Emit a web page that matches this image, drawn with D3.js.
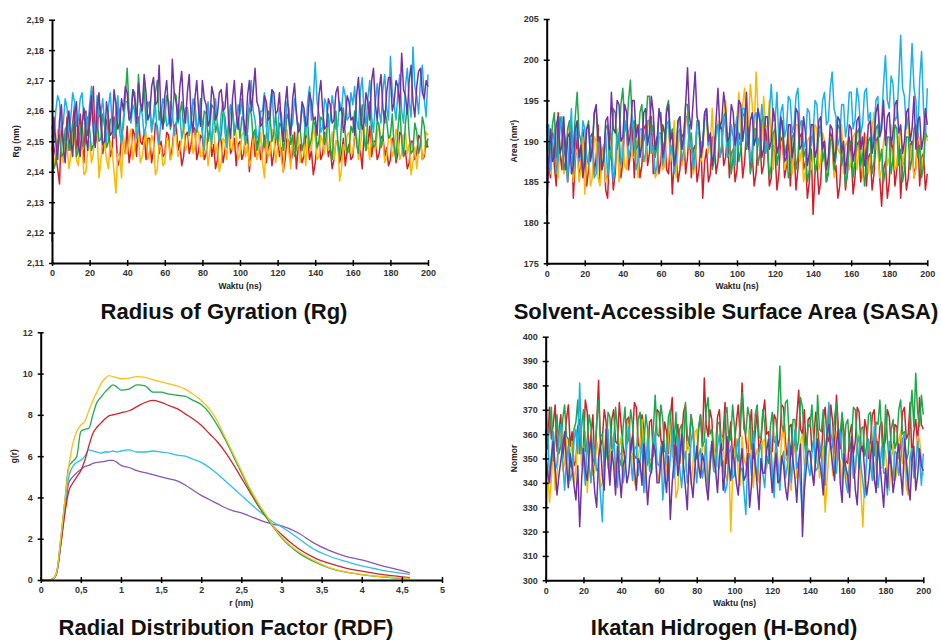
<!DOCTYPE html>
<html>
<head>
<meta charset="utf-8">
<script src="https://cdn.jsdelivr.net/npm/d3@7"></script>
<style>
  body { margin: 0; background: #fff; }
  svg text { font-family: 'Liberation Sans', Arial, sans-serif; }
</style>
</head>
<body>
<div id="graf"></div>
<script>
// -- Datos (muestreo cada 1 ns) --
const waktu = d3.range(0, 201, 1)
const waktuTicks = [0, 20, 40, 60, 80, 100, 120, 140, 160, 180, 200]

// Radius of Gyration (nm)
const rgTicksY = [2.11, 2.12, 2.13, 2.14, 2.15, 2.16, 2.17, 2.18, 2.19]
const rgMerah = [
  2.152, 2.148, 2.145, 2.141, 2.136, 2.155, 2.150, 2.144, 2.158, 2.151, 2.147, 2.156, 2.162, 2.146, 2.153, 2.159, 2.149, 2.143, 2.160, 2.152,
  2.155, 2.161, 2.168, 2.149, 2.152, 2.163, 2.160, 2.146, 2.150, 2.157, 2.156, 2.145, 2.148, 2.158, 2.153, 2.142, 2.144, 2.152, 2.150, 2.146,
  2.155, 2.143, 2.147, 2.154, 2.152, 2.145, 2.158, 2.150, 2.149, 2.153, 2.144, 2.151, 2.151, 2.143, 2.147, 2.156, 2.155, 2.146, 2.150, 2.145,
  2.146, 2.153, 2.152, 2.144, 2.148, 2.155, 2.156, 2.147, 2.150, 2.142, 2.145, 2.152, 2.153, 2.146, 2.149, 2.155, 2.154, 2.144, 2.147, 2.152,
  2.151, 2.144, 2.146, 2.152, 2.153, 2.145, 2.149, 2.141, 2.144, 2.153, 2.150, 2.143, 2.147, 2.152, 2.155, 2.146, 2.148, 2.151, 2.142, 2.149,
  2.150, 2.144, 2.146, 2.153, 2.152, 2.140, 2.148, 2.153, 2.145, 2.149, 2.151, 2.144, 2.147, 2.152, 2.143, 2.148, 2.150, 2.142, 2.146, 2.151,
  2.152, 2.145, 2.148, 2.140, 2.144, 2.151, 2.150, 2.143, 2.146, 2.153, 2.141, 2.148, 2.149, 2.143, 2.145, 2.152, 2.151, 2.144, 2.147, 2.139,
  2.143, 2.149, 2.150, 2.144, 2.146, 2.153, 2.152, 2.145, 2.148, 2.141, 2.144, 2.150, 2.150, 2.143, 2.146, 2.151, 2.142, 2.147, 2.149, 2.144,
  2.145, 2.152, 2.151, 2.146, 2.147, 2.141, 2.153, 2.147, 2.149, 2.155, 2.145, 2.150, 2.150, 2.144, 2.146, 2.151, 2.152, 2.145, 2.148, 2.142,
  2.144, 2.151, 2.150, 2.143, 2.146, 2.153, 2.152, 2.145, 2.147, 2.141, 2.143, 2.150, 2.150, 2.144, 2.146, 2.152, 2.151, 2.144, 2.145, 2.150,
  2.148]
const rgKuning = [
  2.150, 2.142, 2.146, 2.154, 2.152, 2.147, 2.143, 2.150, 2.149, 2.141, 2.145, 2.153, 2.151, 2.144, 2.142, 2.150, 2.148, 2.139, 2.140, 2.147,
  2.150, 2.143, 2.146, 2.154, 2.153, 2.138, 2.144, 2.151, 2.149, 2.144, 2.141, 2.150, 2.147, 2.140, 2.133, 2.146, 2.145, 2.138, 2.152, 2.146,
  2.146, 2.150, 2.154, 2.144, 2.148, 2.155, 2.151, 2.143, 2.145, 2.150, 2.153, 2.144, 2.147, 2.152, 2.150, 2.139, 2.141, 2.149, 2.148, 2.142,
  2.143, 2.151, 2.150, 2.144, 2.146, 2.153, 2.152, 2.145, 2.147, 2.151, 2.155, 2.147, 2.149, 2.154, 2.156, 2.146, 2.148, 2.154, 2.153, 2.145,
  2.145, 2.152, 2.151, 2.142, 2.147, 2.153, 2.154, 2.146, 2.149, 2.140, 2.143, 2.151, 2.150, 2.144, 2.155, 2.148, 2.147, 2.156, 2.152, 2.144,
  2.146, 2.152, 2.153, 2.145, 2.149, 2.142, 2.144, 2.151, 2.151, 2.144, 2.147, 2.153, 2.143, 2.138, 2.150, 2.145, 2.146, 2.154, 2.152, 2.143,
  2.148, 2.153, 2.144, 2.140, 2.150, 2.154, 2.146, 2.141, 2.152, 2.146, 2.147, 2.153, 2.143, 2.148, 2.149, 2.142, 2.153, 2.148, 2.147, 2.155,
  2.151, 2.144, 2.145, 2.152, 2.150, 2.146, 2.154, 2.147, 2.148, 2.153, 2.144, 2.150, 2.150, 2.137, 2.141, 2.149, 2.147, 2.152, 2.153, 2.146,
  2.146, 2.153, 2.151, 2.144, 2.148, 2.154, 2.155, 2.147, 2.149, 2.144, 2.153, 2.149, 2.147, 2.152, 2.156, 2.148, 2.150, 2.143, 2.145, 2.151,
  2.152, 2.145, 2.147, 2.154, 2.151, 2.144, 2.146, 2.152, 2.153, 2.146, 2.149, 2.139, 2.143, 2.148, 2.141, 2.147, 2.150, 2.144, 2.146, 2.153,
  2.152]
const rgHijau = [
  2.148, 2.141, 2.143, 2.150, 2.152, 2.145, 2.146, 2.154, 2.155, 2.147, 2.149, 2.156, 2.153, 2.145, 2.147, 2.154, 2.156, 2.148, 2.150, 2.158,
  2.154, 2.147, 2.149, 2.156, 2.157, 2.150, 2.151, 2.159, 2.155, 2.148, 2.150, 2.157, 2.158, 2.151, 2.153, 2.162, 2.160, 2.152, 2.155, 2.165,
  2.174, 2.160, 2.158, 2.167, 2.166, 2.155, 2.172, 2.162, 2.160, 2.168, 2.156, 2.162, 2.163, 2.154, 2.158, 2.166, 2.170, 2.157, 2.161, 2.155,
  2.157, 2.165, 2.163, 2.154, 2.158, 2.166, 2.165, 2.156, 2.159, 2.163, 2.154, 2.160, 2.161, 2.152, 2.156, 2.163, 2.162, 2.153, 2.157, 2.164,
  2.153, 2.160, 2.159, 2.150, 2.155, 2.162, 2.161, 2.153, 2.156, 2.150, 2.152, 2.160, 2.158, 2.151, 2.154, 2.162, 2.160, 2.152, 2.155, 2.158,
  2.151, 2.158, 2.157, 2.149, 2.153, 2.161, 2.159, 2.151, 2.154, 2.147, 2.150, 2.158, 2.156, 2.148, 2.152, 2.160, 2.158, 2.150, 2.153, 2.159,
  2.149, 2.156, 2.155, 2.147, 2.151, 2.159, 2.157, 2.149, 2.152, 2.145, 2.148, 2.156, 2.154, 2.147, 2.150, 2.158, 2.156, 2.148, 2.151, 2.157,
  2.155, 2.148, 2.150, 2.158, 2.157, 2.149, 2.152, 2.159, 2.148, 2.144, 2.154, 2.160, 2.150, 2.145, 2.156, 2.161, 2.152, 2.146, 2.147, 2.155,
  2.153, 2.160, 2.149, 2.146, 2.156, 2.162, 2.151, 2.147, 2.158, 2.163, 2.153, 2.148, 2.149, 2.157, 2.155, 2.148, 2.151, 2.160, 2.157, 2.151,
  2.152, 2.159, 2.148, 2.144, 2.154, 2.161, 2.150, 2.145, 2.156, 2.162, 2.152, 2.146, 2.147, 2.156, 2.153, 2.146, 2.149, 2.158, 2.155, 2.148,
  2.151]
const rgBiru = [
  2.155, 2.150, 2.160, 2.165, 2.163, 2.154, 2.156, 2.164, 2.161, 2.153, 2.158, 2.166, 2.163, 2.155, 2.157, 2.164, 2.166, 2.157, 2.159, 2.154,
  2.162, 2.168, 2.157, 2.152, 2.165, 2.158, 2.159, 2.164, 2.155, 2.150, 2.161, 2.166, 2.156, 2.151, 2.160, 2.165, 2.153, 2.149, 2.158, 2.163,
  2.163, 2.158, 2.156, 2.162, 2.160, 2.151, 2.154, 2.161, 2.159, 2.152, 2.155, 2.163, 2.161, 2.153, 2.157, 2.162, 2.152, 2.149, 2.158, 2.164,
  2.162, 2.155, 2.156, 2.163, 2.160, 2.152, 2.155, 2.162, 2.159, 2.151, 2.154, 2.161, 2.161, 2.152, 2.157, 2.164, 2.163, 2.154, 2.156, 2.162,
  2.152, 2.147, 2.158, 2.163, 2.154, 2.149, 2.160, 2.164, 2.155, 2.150, 2.159, 2.163, 2.153, 2.148, 2.157, 2.162, 2.161, 2.154, 2.155, 2.162,
  2.159, 2.164, 2.154, 2.150, 2.158, 2.163, 2.170, 2.160, 2.157, 2.151, 2.152, 2.160, 2.160, 2.166, 2.155, 2.149, 2.162, 2.167, 2.156, 2.151,
  2.153, 2.161, 2.159, 2.152, 2.155, 2.163, 2.161, 2.154, 2.156, 2.164, 2.160, 2.153, 2.154, 2.162, 2.158, 2.152, 2.163, 2.168, 2.157, 2.164,
  2.176, 2.163, 2.159, 2.153, 2.155, 2.164, 2.162, 2.155, 2.157, 2.165, 2.161, 2.154, 2.155, 2.163, 2.160, 2.168, 2.165, 2.157, 2.158, 2.166,
  2.162, 2.168, 2.157, 2.154, 2.166, 2.171, 2.160, 2.155, 2.164, 2.170, 2.158, 2.153, 2.163, 2.169, 2.160, 2.156, 2.167, 2.172, 2.161, 2.157,
  2.178, 2.166, 2.162, 2.157, 2.166, 2.172, 2.160, 2.156, 2.168, 2.174, 2.163, 2.158, 2.181, 2.168, 2.165, 2.159, 2.170, 2.175, 2.164, 2.158,
  2.172]
const rgUngu = [
  2.117, 2.158, 2.150, 2.144, 2.157, 2.162, 2.148, 2.143, 2.155, 2.160, 2.151, 2.145, 2.158, 2.163, 2.149, 2.145, 2.156, 2.161, 2.152, 2.147,
  2.159, 2.165, 2.153, 2.148, 2.161, 2.166, 2.155, 2.149, 2.150, 2.163, 2.158, 2.152, 2.153, 2.167, 2.162, 2.154, 2.156, 2.164, 2.160, 2.168,
  2.166, 2.157, 2.158, 2.167, 2.164, 2.156, 2.169, 2.163, 2.160, 2.172, 2.166, 2.157, 2.159, 2.168, 2.171, 2.162, 2.163, 2.175, 2.158, 2.154,
  2.165, 2.170, 2.160, 2.155, 2.177, 2.166, 2.163, 2.157, 2.168, 2.173, 2.161, 2.156, 2.166, 2.172, 2.158, 2.153, 2.164, 2.170, 2.160, 2.155,
  2.170, 2.164, 2.162, 2.155, 2.157, 2.168, 2.165, 2.157, 2.159, 2.166, 2.167, 2.160, 2.161, 2.169, 2.156, 2.151, 2.164, 2.170, 2.159, 2.154,
  2.163, 2.169, 2.157, 2.152, 2.165, 2.170, 2.160, 2.166, 2.174, 2.163, 2.161, 2.155, 2.156, 2.165, 2.163, 2.157, 2.158, 2.167, 2.166, 2.159,
  2.160, 2.166, 2.155, 2.150, 2.162, 2.168, 2.157, 2.152, 2.164, 2.169, 2.159, 2.153, 2.154, 2.163, 2.161, 2.155, 2.156, 2.166, 2.163, 2.157,
  2.158, 2.152, 2.165, 2.170, 2.160, 2.154, 2.155, 2.164, 2.162, 2.156, 2.157, 2.166, 2.168, 2.160, 2.161, 2.153, 2.156, 2.165, 2.163, 2.157,
  2.158, 2.152, 2.165, 2.171, 2.160, 2.154, 2.156, 2.166, 2.163, 2.157, 2.170, 2.174, 2.162, 2.157, 2.167, 2.172, 2.161, 2.156, 2.166, 2.171,
  2.171, 2.160, 2.163, 2.170, 2.168, 2.161, 2.179, 2.167, 2.165, 2.159, 2.170, 2.175, 2.163, 2.158, 2.168, 2.173, 2.174, 2.166, 2.164, 2.170,
  2.168]

// SASA (nm2)
const sasaTicksY = [175, 180, 185, 190, 195, 200, 205]
const sasaMerah = [
  190, 187, 185.5, 191, 187, 184.5, 193.5, 188.5, 186.5, 191.5, 189.5, 185, 188, 192, 183, 187.5, 190.5, 185.5, 187, 191.5,
  189, 184.5, 186.5, 190.5, 191, 186, 188, 192, 185, 188.5, 189.5, 184, 183, 188.5, 188, 184, 186, 191, 190, 185.5,
  187.5, 192.5, 191.5, 186.5, 188.5, 192, 185.5, 189, 190, 185.5, 187, 191.5, 192, 187, 188.5, 193, 186, 189.5, 190.5, 186,
  187.5, 192, 191, 186.5, 186, 190, 183.5, 187.5, 189, 185, 186.5, 190.5, 191, 186, 188, 192, 185.5, 189, 189.5, 185,
  186.5, 190, 183, 187.5, 189, 185, 186, 190.5, 190.5, 186, 187.5, 192, 191.5, 187, 188, 191, 185.5, 188.5, 189, 185,
  186.5, 191, 190, 185.5, 187.5, 191.5, 192, 187, 188.5, 184.5, 186, 190, 190.5, 186, 187, 191.5, 189.5, 184.5, 185.5, 189.5,
  188.5, 184, 186, 190.5, 190, 185.5, 187, 191, 184.5, 188.5, 189, 184, 186.5, 190.5, 191, 186.5, 187.5, 183, 185, 189,
  181, 186, 187.5, 183.5, 185, 190, 189.5, 185, 186.5, 191, 190.5, 186, 187, 183, 184.5, 189, 189, 184, 186, 190.5,
  188.5, 183.5, 185.5, 189.5, 190, 185, 187, 191, 184.5, 188, 188.5, 184, 186, 190, 190.5, 185.5, 182, 186.5, 187.5, 183,
  185, 190, 189, 184.5, 186.5, 190.5, 183, 187, 188, 184, 185.5, 189.5, 190, 185.5, 187, 191, 184.5, 188, 188.5, 184,
  186]
const sasaKuning = [
  189.5, 192, 186, 189, 191.5, 187, 185.5, 189.5, 190, 186, 187, 191, 192.5, 188, 185, 188.5, 189, 185, 186.5, 190.5,
  183.5, 187.5, 188.5, 184.5, 185.5, 190.5, 190, 185.5, 184.5, 188, 189.5, 185, 186, 190, 191, 186.5, 187, 191.5, 185, 188,
  190.5, 187, 186.5, 191, 192, 188, 188, 192, 185.5, 189, 191, 187.5, 187.5, 191.5, 193, 188.5, 189, 185.5, 186, 190.5,
  190.5, 186.5, 187, 191.5, 192, 187.5, 188.5, 192.5, 185.5, 189, 191.5, 187, 188, 192, 193.5, 189, 189.5, 186, 187, 191,
  191, 187.5, 188.5, 192.5, 193, 188.5, 190, 194, 187.5, 191, 192.5, 188, 189.5, 193, 195, 190, 191, 187, 188.5, 192,
  193, 196, 190.5, 194.5, 196.5, 191, 192, 197, 194.5, 190.5, 198.5, 194, 193, 190, 195.5, 192, 191.5, 195, 189.5, 186.5,
  192, 187.5, 188.5, 192.5, 191, 186.5, 187.5, 191.5, 190.5, 186, 188, 192, 192, 187.5, 189, 185, 186.5, 190, 190.5, 186.5,
  188, 192, 191.5, 186.5, 187.5, 191, 190, 186, 186.5, 190.5, 189.5, 185.5, 192.5, 189, 188.5, 192, 186, 189.5, 190, 186.5,
  187.5, 190.5, 191, 186.5, 188.5, 192, 185.5, 189, 190.5, 186, 187.5, 191.5, 193.5, 189, 189, 185.5, 186.5, 190, 191, 187,
  188, 192, 190.5, 186.5, 187, 190.5, 191.5, 187, 188.5, 193, 192, 188, 189, 185.5, 186.5, 190, 190.5, 186, 188, 191.5,
  190]
const sasaHijau = [
  192, 189, 188.5, 192, 193.5, 188, 189, 193, 191, 186.5, 187.5, 191.5, 192.5, 188.5, 189.5, 193, 196, 191, 190, 186,
  188, 191.5, 192.5, 188, 189.5, 193.5, 194, 189.5, 190.5, 186.5, 187.5, 191.5, 192, 187.5, 189, 194, 193.5, 189, 190.5, 194.5,
  196.5, 192, 191, 195, 197.5, 192, 192.5, 189, 189.5, 193.5, 194.5, 190, 191, 195.5, 195.5, 191, 192, 188, 189.5, 193,
  193.5, 189, 190, 194, 195, 190.5, 191.5, 187.5, 188.5, 192.5, 193, 189, 190, 194.5, 194.5, 190, 191, 187, 188.5, 192.5,
  192.5, 188, 189.5, 193.5, 194, 189.5, 190.5, 186.5, 187.5, 191.5, 192, 188, 189, 193, 193.5, 189, 190.5, 186, 188, 192,
  192, 187.5, 189, 193, 193.5, 189, 190.5, 186, 187.5, 191.5, 191.5, 187, 188.5, 192.5, 193, 188.5, 190, 185.5, 187, 191,
  191.5, 187, 188.5, 192.5, 192.5, 188, 189.5, 185.5, 186.5, 190.5, 191, 186.5, 188, 192, 192.5, 188, 189, 185, 186.5, 190.5,
  190.5, 186, 187.5, 191.5, 192, 187.5, 189, 185, 186, 190, 190.5, 186.5, 188, 192, 191.5, 187, 188.5, 184.5, 186, 189.5,
  190, 185.5, 187.5, 191, 191.5, 187, 188.5, 184.5, 186.5, 190, 190.5, 186, 187.5, 191.5, 192, 187.5, 189, 185, 186.5, 190.5,
  190.5, 186, 188, 192, 191.5, 187, 189, 185, 186.5, 190.5, 190.5, 186.5, 188, 191.5, 192, 188, 189.5, 185.5, 187, 191,
  190.5]
const sasaBiru = [
  189, 192, 186.5, 190, 191, 186, 187.5, 191.5, 193, 189, 188, 185, 190.5, 194, 186, 189.5, 192, 187.5, 188.5, 192.5,
  191.5, 188, 187, 190.5, 189.5, 185.5, 186, 190, 190.5, 186.5, 187.5, 191, 185.5, 188.5, 189.5, 185, 187, 190.5, 191, 187,
  188.5, 192.5, 192, 188, 189, 193, 190.5, 186.5, 187.5, 191.5, 191.5, 187.5, 188.5, 192.5, 192.5, 188.5, 189.5, 186, 187, 191,
  191, 187, 188.5, 192, 192.5, 188.5, 189.5, 186, 187.5, 191, 191.5, 187.5, 189, 193, 193, 189, 190, 186.5, 188, 192,
  192, 188.5, 189.5, 193, 193.5, 189.5, 190.5, 187, 188, 191.5, 192, 188, 189.5, 193, 191.5, 188, 188.5, 192, 190.5, 187,
  193, 189.5, 190, 194, 194, 190, 191, 187.5, 189, 193, 193.5, 189.5, 190.5, 194.5, 192, 188.5, 189.5, 193.5, 197, 192.5,
  192.5, 196, 190, 193.5, 194.5, 190.5, 191.5, 195.5, 195, 191, 192, 195.5, 196.5, 192, 192.5, 189, 190, 194, 193.5, 189.5,
  191, 195, 194.5, 190.5, 191.5, 195, 196, 192, 192.5, 196.5, 198.5, 194, 193, 189.5, 190.5, 194.5, 194.5, 190.5, 192, 196,
  196, 191.5, 192.5, 196.5, 195, 191, 192, 196, 196.5, 192.5, 193.5, 189.5, 191, 195, 195.5, 191, 192.5, 197, 200.5, 195,
  194, 198, 197, 192.5, 193, 197.5, 203, 196.5, 195.5, 191.5, 193, 197, 202, 196.5, 195, 190.5, 197.5, 201, 194, 190.5,
  196.5]
const sasaUngu = [
  181, 187, 191.5, 187.5, 188, 192, 193, 188.5, 189.5, 193, 186.5, 190.5, 191, 186, 187, 191.5, 192.5, 188, 189.5, 185.5,
  187.5, 191.5, 192, 187.5, 189, 193.5, 194.5, 190, 190.5, 186.5, 188, 192.5, 193, 189, 196, 191.5, 191, 195, 194.5, 190,
  190.5, 194.5, 193.5, 189.5, 191, 195, 195, 190.5, 192, 188, 189.5, 193.5, 194, 189.5, 191, 195.5, 193.5, 189, 190, 194,
  192.5, 188, 189.5, 193.5, 194.5, 190, 191, 187, 188.5, 192.5, 193, 189, 190.5, 194.5, 199, 193, 191.5, 195, 198.5, 193,
  192, 188, 189.5, 193.5, 194, 190, 191, 187, 188.5, 192.5, 196.5, 191.5, 192.5, 196, 194, 190, 190.5, 194.5, 193.5, 189.5,
  191, 195, 194.5, 190, 192, 196, 189, 192.5, 193.5, 189.5, 190.5, 194, 192.5, 188, 189, 193, 193, 189, 190, 194,
  192.5, 188.5, 189.5, 193, 191.5, 187.5, 188, 192, 192, 188, 190, 194, 193.5, 189, 189.5, 193, 191, 187, 188.5, 192,
  192, 188, 189, 192.5, 193, 189, 190, 186.5, 188, 192, 191.5, 187.5, 189, 193, 192.5, 188.5, 190, 186, 188.5, 192,
  191.5, 187.5, 189, 192.5, 193, 189, 190.5, 187, 188, 192, 192.5, 188.5, 190, 193.5, 194.5, 190.5, 191.5, 195, 189.5, 193,
  193.5, 189.5, 191, 194.5, 195, 191, 192, 188.5, 190, 193.5, 194, 190, 191.5, 195.5, 189, 192.5, 193, 189, 190.5, 194,
  192]

// Ikatan hidrogen (jumlah)
const hbTicksY = [300, 310, 320, 330, 340, 350, 360, 370, 380, 390, 400]
const hbMerah = [
  362, 354, 371, 358, 364, 372, 353, 361, 368, 350, 357, 366, 372, 355, 361, 347, 349, 363, 366, 352,
  355, 374, 369, 351, 360, 368, 347, 364, 382, 355, 358, 370, 365, 349, 352, 366, 370, 357, 356, 373,
  363, 355, 349, 366, 367, 352, 359, 373, 371, 356, 354, 368, 362, 346, 348, 365, 366, 351, 357, 370,
  369, 358, 353, 365, 361, 352, 367, 375, 350, 359, 364, 348, 357, 369, 372, 354, 355, 368, 362, 349,
  351, 362, 368, 355, 383, 364, 359, 370, 366, 351, 354, 367, 370, 356, 360, 373, 348, 357, 365, 350,
  356, 365, 372, 359, 381, 366, 358, 351, 363, 370, 350, 361, 369, 353, 357, 368, 374, 360, 361, 352,
  353, 368, 366, 355, 358, 372, 371, 357, 349, 363, 364, 351, 356, 367, 378, 362, 360, 370, 352, 366,
  367, 353, 358, 369, 363, 354, 350, 366, 371, 359, 357, 372, 365, 352, 376, 363, 354, 368, 361, 349,
  348, 360, 364, 352, 357, 371, 369, 355, 353, 366, 362, 350, 356, 368, 370, 357, 351, 363, 365, 354,
  358, 370, 367, 355, 352, 364, 363, 350, 356, 369, 371, 358, 360, 373, 349, 361, 366, 356, 375, 364,
  362]
const hbKuning = [
  315, 348, 332, 341, 355, 337, 343, 356, 361, 345, 348, 358, 339, 351, 357, 340, 346, 359, 363, 347,
  351, 361, 336, 348, 358, 343, 345, 357, 353, 338, 340, 352, 362, 346, 349, 359, 356, 341, 342, 355,
  359, 343, 347, 360, 364, 349, 352, 340, 338, 351, 355, 366, 344, 336, 361, 350, 349, 358, 357, 344,
  341, 356, 353, 340, 346, 359, 365, 351, 350, 334, 337, 352, 358, 344, 345, 357, 354, 339, 348, 361,
  362, 350, 343, 356, 355, 342, 339, 353, 351, 345, 360, 347, 346, 359, 357, 344, 341, 352, 320, 343,
  352, 358, 344, 339, 359, 350, 347, 355, 362, 349, 338, 351, 354, 340, 345, 357, 358, 346, 350, 361,
  341, 349, 356, 343, 347, 358, 363, 350, 351, 340, 337, 352, 355, 342, 344, 357, 360, 347, 348, 354,
  353, 345, 340, 351, 358, 342, 346, 355, 328, 341, 352, 360, 343, 349, 361, 350, 349, 338, 356, 345,
  339, 350, 352, 342, 345, 356, 360, 336, 322, 344, 348, 357, 355, 343, 341, 353, 358, 347, 346, 354,
  353, 342, 337, 350, 356, 341, 344, 357, 361, 348, 349, 338, 335, 351, 354, 345, 347, 359, 358, 350,
  343]
const hbHijau = [
  380, 356, 362, 371, 349, 358, 368, 352, 355, 366, 372, 359, 358, 347, 346, 362, 365, 374, 352, 363,
  370, 353, 357, 368, 363, 350, 348, 365, 374, 359, 360, 347, 351, 369, 367, 354, 356, 371, 362, 350,
  347, 363, 371, 356, 358, 370, 364, 351, 350, 366, 369, 356, 355, 368, 362, 349, 345, 362, 376, 360,
  359, 372, 366, 353, 352, 367, 370, 355, 357, 369, 348, 362, 364, 351, 373, 360, 356, 368, 361, 350,
  350, 363, 368, 355, 357, 370, 375, 360, 362, 349, 347, 364, 365, 353, 354, 368, 371, 357, 358, 372,
  363, 352, 349, 366, 377, 362, 360, 371, 367, 354, 353, 368, 372, 359, 358, 370, 364, 351, 348, 363,
  369, 357, 356, 370, 388, 364, 361, 373, 374, 358, 352, 366, 366, 353, 358, 375, 371, 357, 350, 364,
  363, 372, 357, 348, 376, 362, 361, 370, 349, 357, 368, 354, 355, 367, 373, 359, 360, 369, 352, 364,
  366, 353, 358, 371, 370, 357, 346, 362, 363, 351, 355, 368, 369, 356, 351, 365, 364, 374, 359, 347,
  372, 358, 348, 362, 366, 354, 357, 370, 374, 360, 361, 349, 352, 367, 378, 363, 385, 369, 363, 376,
  368]
const hbBiru = [
  356, 363, 342, 351, 361, 345, 348, 359, 364, 350, 337, 349, 355, 341, 344, 357, 362, 352, 381, 355,
  349, 339, 358, 347, 340, 356, 353, 345, 346, 335, 324, 350, 357, 362, 343, 349, 360, 346, 338, 352,
  352, 340, 345, 356, 363, 350, 341, 354, 355, 343, 349, 358, 336, 347, 358, 345, 344, 353, 361, 348,
  347, 355, 333, 344, 356, 341, 350, 362, 342, 351, 359, 346, 338, 349, 353, 340, 345, 357, 362, 350,
  340, 351, 354, 342, 347, 358, 336, 348, 357, 345, 344, 355, 360, 347, 349, 336, 339, 352, 355, 342,
  343, 354, 358, 345, 346, 337, 327, 349, 352, 343, 361, 350, 341, 353, 356, 344, 338, 351, 350, 360,
  345, 334, 359, 348, 337, 350, 353, 342, 347, 357, 340, 352, 362, 346, 349, 338, 326, 344, 355, 347,
  343, 352, 358, 345, 346, 357, 352, 340, 339, 362, 373, 360, 357, 346, 344, 355, 361, 350, 348, 340,
  336, 348, 353, 342, 345, 356, 359, 347, 340, 334, 351, 358, 347, 341, 363, 352, 338, 346, 355, 344,
  344, 335, 357, 348, 341, 353, 352, 343, 349, 358, 360, 346, 337, 350, 354, 342, 346, 357, 350, 339,
  352]
const hbUngu = [
  352, 344, 340, 350, 357, 346, 335, 343, 349, 355, 361, 348, 338, 352, 346, 339, 333, 347, 322, 341,
  354, 345, 341, 352, 358, 347, 336, 330, 350, 356, 343, 337, 362, 349, 339, 353, 347, 335, 355, 344,
  334, 347, 351, 340, 344, 355, 359, 346, 337, 350, 348, 339, 356, 345, 331, 342, 345, 356, 353, 340,
  340, 349, 357, 344, 336, 351, 325, 340, 349, 355, 343, 350, 360, 347, 338, 329, 352, 341, 334, 346,
  355, 347, 342, 352, 348, 339, 333, 346, 357, 350, 345, 336, 351, 356, 337, 344, 359, 348, 341, 353,
  348, 340, 335, 347, 354, 341, 343, 352, 330, 339, 356, 347, 339, 329, 350, 344, 344, 353, 358, 346,
  336, 345, 352, 340, 341, 351, 347, 338, 333, 344, 355, 349, 342, 332, 349, 356, 318, 337, 346, 353,
  353, 345, 339, 350, 358, 349, 344, 335, 351, 360, 364, 354, 347, 341, 356, 362, 340, 332, 352, 346,
  343, 334, 359, 351, 337, 331, 348, 354, 355, 344, 335, 341, 350, 357, 342, 336, 357, 348, 339, 330,
  346, 338, 353, 347, 336, 342, 351, 356, 344, 335, 358, 350, 340, 333, 349, 355, 337, 343, 354, 347,
  345]

// RDF g(r)
const rdfR = [0, 0.1, 0.15, 0.2, 0.25, 0.3, 0.35, 0.4, 0.45, 0.5,
  0.55, 0.6, 0.65, 0.7, 0.75, 0.8, 0.85, 0.9, 0.95, 1.0,
  1.1, 1.2, 1.3, 1.4, 1.5, 1.6, 1.7, 1.8, 1.9, 2.0,
  2.1, 2.2, 2.3, 2.4, 2.5, 2.6, 2.7, 2.8, 2.9, 3.0,
  3.2, 3.4, 3.6, 3.8, 4.0, 4.2, 4.4, 4.6]
const rdfTicksX = [0, 0.5, 1, 1.5, 2, 2.5, 3, 3.5, 4, 4.5, 5]
const rdfTicksY = [0, 2, 4, 6, 8, 10, 12]
const rdfKuning = [0, 0, 0.05, 0.4, 2.0, 3.8, 5.5, 6.6, 7.2, 7.5,
  7.7, 8.2, 8.7, 9.1, 9.5, 9.75, 9.9, 9.85, 9.8, 9.75,
  9.78, 9.85, 9.82, 9.7, 9.6, 9.5, 9.4, 9.25, 9.0, 8.7,
  8.3, 7.7, 6.9, 6.1, 5.3, 4.5, 3.8, 3.2, 2.6, 2.1,
  1.4, 0.95, 0.6, 0.4, 0.27, 0.18, 0.12, 0.08]
const rdfHijau = [0, 0, 0.05, 0.4, 2.0, 3.8, 5.5, 5.75, 6.0, 7.2,
  7.3, 7.35, 8.0, 8.6, 8.85, 9.1, 9.3, 9.45, 9.35, 9.2,
  9.25, 9.45, 9.4, 9.1, 9.1, 9.0, 8.95, 8.9, 8.7, 8.5,
  8.1, 7.5, 6.8, 6.0, 5.2, 4.4, 3.7, 3.1, 2.55, 2.05,
  1.35, 0.9, 0.58, 0.38, 0.26, 0.17, 0.11, 0.07]
const rdfMerah = [0, 0, 0.04, 0.35, 1.7, 3.2, 4.3, 4.7, 5.0, 5.3,
  5.8, 6.5, 7.1, 7.4, 7.6, 7.8, 7.95, 8.0, 8.05, 8.1,
  8.2, 8.4, 8.6, 8.7, 8.6, 8.45, 8.3, 8.05, 7.8, 7.5,
  7.1, 6.7, 6.2, 5.6, 4.95, 4.3, 3.65, 3.1, 2.6, 2.2,
  1.55, 1.1, 0.8, 0.58, 0.43, 0.3, 0.2, 0.12]
const rdfBiru = [0, 0, 0.04, 0.35, 1.8, 3.6, 5.0, 5.5, 5.7, 5.8,
  6.0, 6.3, 6.25, 6.2, 6.15, 6.2, 6.2, 6.25, 6.2, 6.25,
  6.3, 6.2, 6.2, 6.25, 6.2, 6.15, 6.05, 6.0, 5.85, 5.7,
  5.45, 5.15, 4.8, 4.45, 4.1, 3.75, 3.4, 3.1, 2.8, 2.58,
  2.05, 1.5, 1.15, 0.9, 0.68, 0.52, 0.38, 0.27]
const rdfUngu = [0, 0, 0.04, 0.35, 1.7, 3.3, 4.7, 5.0, 5.2, 5.35,
  5.5, 5.55, 5.65, 5.7, 5.72, 5.75, 5.8, 5.8, 5.7, 5.55,
  5.45, 5.3, 5.2, 5.1, 5.0, 4.9, 4.8, 4.6, 4.35, 4.1,
  3.9, 3.7, 3.5, 3.35, 3.25, 3.1, 2.95, 2.8, 2.7, 2.62,
  2.3, 1.8, 1.42, 1.15, 0.97, 0.75, 0.55, 0.35]

// -- Colores --
const warna = { merah: '#d2202a', kuning: '#fcb900', hijau: '#1fa84b', biru: '#1cb0e8', ungu: '#7232a3' }
const warnaRdf = { merah: '#c8282e', kuning: '#f7c31a', hijau: '#25a653', biru: '#2fc0e0', ungu: '#8a55b4' }

// Configuración del canvas
const ancho_total = 941, alto_total = 640
const fuente = "'Liberation Sans', Arial, sans-serif"
const koma = d => String(d).replace('.', ',')

const svg = d3.select('#graf').append('svg')
  .attr('width', ancho_total)
  .attr('height', alto_total)
  .style('background', '#fff')

const paneles = [
  { left: 52, right: 428, top: 19.7, bottom: 263, xs: waktu,
    xDom: [0, 200], yDom: [2.11, 2.19], xTicks: waktuTicks, yTicks: rgTicksY,
    fmtX: koma, fmtY: d => koma(d.toFixed(2)),
    xLabel: 'Waktu (ns)', yLabel: 'Rg (nm)', yLabelX: 16,
    judul: 'Radius of Gyration (Rg)', judulX: 224, judulY: 319, lw: 1.5, curva: d3.curveLinear,
    series: [[rgMerah, warna.merah], [rgKuning, warna.kuning], [rgHijau, warna.hijau], [rgBiru, warna.biru], [rgUngu, warna.ungu]] },
  { left: 546.7, right: 927.3, top: 19, bottom: 263.3, xs: waktu,
    xDom: [0, 200], yDom: [175, 205], xTicks: waktuTicks, yTicks: sasaTicksY,
    fmtX: koma, fmtY: koma,
    xLabel: 'Waktu (ns)', yLabel: 'Area (nm²)', yLabelX: 514,
    judul: 'Solvent-Accessible Surface Area (SASA)', judulX: 726, judulY: 319, lw: 1.5, curva: d3.curveLinear,
    series: [[sasaMerah, warna.merah], [sasaKuning, warna.kuning], [sasaHijau, warna.hijau], [sasaBiru, warna.biru], [sasaUngu, warna.ungu]] },
  { left: 40.7, right: 442, top: 332.3, bottom: 580, xs: rdfR,
    xDom: [0, 5], yDom: [0, 12], xTicks: rdfTicksX, yTicks: rdfTicksY,
    fmtX: koma, fmtY: koma,
    xLabel: 'r (nm)', yLabel: 'g(r)', yLabelX: 14,
    judul: 'Radial Distribution Factor (RDF)', judulX: 226, judulY: 635, lw: 1.3, curva: d3.curveMonotoneX,
    series: [[rdfUngu, warnaRdf.ungu], [rdfBiru, warnaRdf.biru], [rdfMerah, warnaRdf.merah], [rdfHijau, warnaRdf.hijau], [rdfKuning, warnaRdf.kuning]] },
  { left: 545.7, right: 923.3, top: 336.7, bottom: 580.3, xs: waktu,
    xDom: [0, 200], yDom: [300, 400], xTicks: waktuTicks, yTicks: hbTicksY,
    fmtX: koma, fmtY: koma,
    xLabel: 'Waktu (ns)', yLabel: 'Nomor', yLabelX: 514,
    judul: 'Ikatan Hidrogen (H-Bond)', judulX: 724, judulY: 635, lw: 1.5, curva: d3.curveLinear,
    series: [[hbMerah, warna.merah], [hbKuning, warna.kuning], [hbHijau, warna.hijau], [hbBiru, warna.biru], [hbUngu, warna.ungu]] }
]

// Render de cada panel
paneles.forEach(p => {
  const x = d3.scaleLinear().domain(p.xDom).range([p.left, p.right])
  const y = d3.scaleLinear().domain(p.yDom).range([p.bottom, p.top])
  const g = svg.append('g')

  const linea = d3.line()
    .defined((d, i) => p.xs[i] !== undefined)
    .x((d, i) => x(p.xs[i]))
    .y(d => y(d))
    .curve(p.curva)

  g.selectAll('path.serie')
    .data(p.series)
    .enter()
    .append('path')
    .attr('class', 'serie')
    .attr('d', s => linea(s[0]))
    .attr('fill', 'none')
    .attr('stroke', s => s[1])
    .attr('stroke-width', p.lw)
    .attr('stroke-linejoin', 'round')

  // -- Ejes --
  const xAx = g.append('g')
    .attr('transform', `translate(0, ${p.bottom})`)
    .call(d3.axisBottom(x).tickValues(p.xTicks).tickFormat(p.fmtX)
      .tickSize(3).tickSizeOuter(0).tickPadding(4))
  xAx.selectAll('.tick line').attr('y1', -3)

  const yAx = g.append('g')
    .attr('transform', `translate(${p.left}, 0)`)
    .call(d3.axisLeft(y).tickValues(p.yTicks).tickFormat(p.fmtY)
      .tickSize(3).tickSizeOuter(0).tickPadding(5))
  yAx.selectAll('.tick line').attr('x1', 3)

  g.selectAll('.domain').attr('stroke', '#000').attr('stroke-width', 2)
  g.selectAll('.tick line').attr('stroke', '#000').attr('stroke-width', 1.5)
  g.selectAll('.tick text')
    .attr('font-family', fuente)
    .attr('font-size', 9)
    .attr('font-weight', 'bold')
    .attr('fill', '#333')

  // -- Títulos de ejes --
  g.append('text')
    .attr('x', (p.left + p.right) / 2)
    .attr('y', p.bottom + 26)
    .attr('text-anchor', 'middle')
    .attr('font-size', 8.5)
    .attr('font-weight', 'bold')
    .attr('fill', '#222')
    .text(p.xLabel)

  g.append('text')
    .attr('transform', `translate(${p.yLabelX + 3}, ${(p.top + p.bottom) / 2}) rotate(-90)`)
    .attr('text-anchor', 'middle')
    .attr('font-size', 8.5)
    .attr('font-weight', 'bold')
    .attr('fill', '#222')
    .text(p.yLabel)

  g.append('text')
    .attr('x', p.judulX)
    .attr('y', p.judulY)
    .attr('text-anchor', 'middle')
    .attr('font-size', 22)
    .attr('font-weight', 'bold')
    .attr('fill', '#111')
    .text(p.judul)
})
</script>
</body>
</html>
